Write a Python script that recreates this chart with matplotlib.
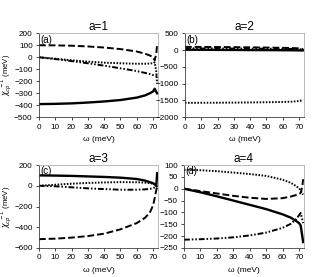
import matplotlib
matplotlib.use("Agg")
import matplotlib.pyplot as plt

plt.rcParams['font.family'] = ['Liberation Sans', 'DejaVu Sans']

# ---- data ----
w = [0, 10, 20, 30, 40, 50, 60, 65, 68, 70, 71, 72, 72.5]

# panel (a), a=1
a_solid   = [-390, -388, -384, -377, -368, -356, -336, -318, -300, -285, -262, -290, -300]
a_dashed  = [100, 99, 96, 90, 81, 68, 48, 30, 15, 0, -25, 30, 110]
a_dotted  = [0, -12, -25, -36, -45, -50, -54, -54, -52, -50, -42, -120, -220]
a_dashdot = [0, -15, -32, -50, -70, -92, -115, -130, -140, -148, -152, -156, -160]

# panel (b), a=2
b_solid   = [10, 8, 5, 3, 0, -2, -5, -6, -8, -10, -12, -12, -10]
b_dashed  = [95, 93, 90, 86, 80, 74, 66, 60, 55, 50, 45, 30, 20]
b_dotted  = [-1570, -1568, -1566, -1563, -1558, -1552, -1543, -1535, -1525, -1515, -1505, -1495, -1490]
b_dashdot = [50, 48, 46, 44, 42, 40, 37, 34, 30, 25, 20, 10, 5]

# panel (c), a=3
c_solid   = [100, 98, 95, 90, 85, 78, 65, 50, 35, 25, 15, 0, 120]
c_dashed  = [-515, -510, -500, -485, -462, -420, -360, -310, -260, -190, -120, -40, -10]
c_dotted  = [0, 10, 20, 27, 32, 35, 34, 30, 25, 20, 12, 0, -20]
c_dashdot = [0, -5, -15, -25, -32, -38, -38, -35, -30, -25, -15, -5, 0]

# panel (d), a=4
d_solid   = [0, -15, -32, -50, -68, -86, -108, -122, -135, -145, -155, -200, -225]
d_dashed  = [0, -10, -20, -30, -38, -43, -40, -33, -27, -22, -18, 10, 40]
d_dotted  = [80, 78, 74, 68, 62, 54, 38, 25, 12, 2, -8, -20, -25]
d_dashdot = [-215, -213, -210, -205, -197, -185, -165, -148, -130, -112, -102, -130, -145]

panels = [
    ("a=1", "(a)", (-500, 200), [-500, -400, -300, -200, -100, 0, 100, 200],
     a_solid, a_dashed, a_dotted, a_dashdot, [0.124, 0.5765, 0.379, 0.3035], True),
    ("a=2", "(b)", (-2000, 500), [-2000, -1500, -1000, -500, 0, 500],
     b_solid, b_dashed, b_dotted, b_dashdot, [0.589, 0.5765, 0.379, 0.3035], False),
    ("a=3", "(c)", (-600, 200), [-600, -400, -200, 0, 200],
     c_solid, c_dashed, c_dotted, c_dashdot, [0.124, 0.1047, 0.379, 0.2996], True),
    ("a=4", "(d)", (-250, 100), [-250, -200, -150, -100, -50, 0, 50, 100],
     d_solid, d_dashed, d_dotted, d_dashdot, [0.586, 0.1047, 0.382, 0.2996], False),
]

xticks = [0, 10, 20, 30, 40, 50, 60, 70]

fig = plt.figure(figsize=(3.14, 2.77), dpi=100)
for title, lab, ylim, yticks, s, da, do, dd, pos, ylab in panels:
    ax = fig.add_axes(pos)
    lw = 1.4
    ax.plot(w, s, color='black', lw=lw + 0.3, ls='-')
    ax.plot(w, da, color='black', lw=lw, ls=(0, (3.5, 1.5)))
    ax.plot(w, do, color='black', lw=lw, ls=(0, (0.8, 0.8)))
    ax.plot(w, dd, color='black', lw=lw, ls=(0, (3, 1, 0.8, 1, 0.8, 1)))
    ax.set_xlim(0, 73)
    ax.set_ylim(*ylim)
    ax.set_xticks(xticks)
    ax.set_yticks(yticks)
    ax.tick_params(labelsize=5.9, length=2, width=0.5, pad=2.5, direction='out')
    ax.set_title(title, fontsize=8.5, pad=1.5)
    ax.text(0.01, 0.985, lab, transform=ax.transAxes, fontsize=7,
            va='top', ha='left')
    for side in ['top', 'right']:
        ax.spines[side].set_color('#b0b0b0')
        ax.spines[side].set_linewidth(0.6)
    for side in ['left', 'bottom']:
        ax.spines[side].set_color('#404040')
        ax.spines[side].set_linewidth(0.6)
    ax.set_xlabel("ω (meV)", fontsize=6, labelpad=4)
    if ylab:
        ax.text(-0.275, 0.5, r"$\chi_{cp}^{\ -1}$ (meV)", transform=ax.transAxes,
                rotation=90, ha='center', va='center', fontsize=5.6)

fig.savefig("out.png", dpi=100)
